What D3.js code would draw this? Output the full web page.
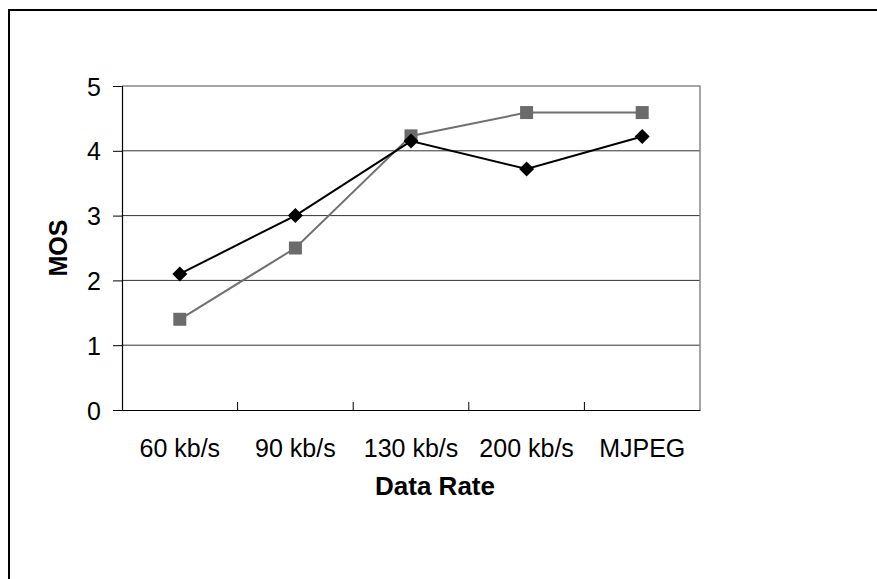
<!DOCTYPE html>
<html>
<head>
<meta charset="utf-8">
<script src="https://cdn.jsdelivr.net/npm/d3@7"></script>
<style>
  body { margin: 0; background: #fff; }
  text { font-family: "Liberation Sans", Arial, sans-serif; fill: #000; }
</style>
</head>
<body>
<script>
var w = 877;
var h = 579;

var categories = ["60 kb/s", "90 kb/s", "130 kb/s", "200 kb/s", "MJPEG"];
var diamondVals = [2.1, 3.0, 4.15, 3.72, 4.22];
var squareVals = [1.4, 2.5, 4.23, 4.59, 4.59];
var yTicks = [0, 1, 2, 3, 4, 5];

var pLeft = 122, pRight = 700, pTop = 86, pBottom = 410;
var fontSize = 25;

var svg = d3.select("body")
    .append("svg")
    .attr("width", w)
    .attr("height", h);

// outer frame (cut off on right and bottom)
svg.append("path")
    .attr("d", "M9," + h + " V10 H" + w)
    .attr("fill", "none")
    .attr("stroke", "#000")
    .attr("stroke-width", 2);

var xScale = d3.scaleBand()
    .domain(categories)
    .range([pLeft, pRight]);

var yScale = d3.scaleLinear()
    .domain([0, 5])
    .range([pBottom, pTop]);

// gridlines
svg.selectAll(".grid")
    .data(yTicks.filter(function(d) { return d > 0 && d < 5; }))
    .enter()
    .append("line")
    .attr("x1", pLeft)
    .attr("x2", pRight)
    .attr("y1", function(d) { return yScale(d); })
    .attr("y2", function(d) { return yScale(d); })
    .attr("stroke", "#333")
    .attr("stroke-width", 1);

// plot border top/right
svg.append("path")
    .attr("d", "M" + pLeft + "," + pTop + " H" + pRight + " V" + pBottom)
    .attr("fill", "none")
    .attr("stroke", "#888")
    .attr("stroke-width", 1.5);

// y axis
var yAxis = d3.axisLeft(yScale)
    .tickValues(yTicks)
    .tickFormat(d3.format("d"))
    .tickSize(9)
    .tickPadding(12);
var gy = svg.append("g")
    .attr("transform", "translate(" + pLeft + ",0)")
    .call(yAxis);
gy.select(".domain").attr("stroke", "#000").attr("stroke-width", 1.2);
gy.selectAll(".tick line").attr("stroke", "#000");
gy.selectAll("text")
    .attr("font-size", fontSize)
    .attr("font-family", "Liberation Sans, Arial, sans-serif")
    .attr("dy", "0.36em");

// x axis
var xAxis = d3.axisBottom(xScale)
    .tickSize(0)
    .tickPadding(29);
var gx = svg.append("g")
    .attr("transform", "translate(0," + pBottom + ")")
    .call(xAxis);
gx.select(".domain").attr("stroke", "#000").attr("stroke-width", 1.2);
gx.selectAll("text")
    .attr("font-size", fontSize)
    .attr("font-family", "Liberation Sans, Arial, sans-serif");

// category boundary ticks pointing up
svg.selectAll(".xtick")
    .data(categories.slice(1))
    .enter()
    .append("line")
    .attr("x1", function(d) { return xScale(d); })
    .attr("x2", function(d) { return xScale(d); })
    .attr("y1", pBottom)
    .attr("y2", pBottom - 8)
    .attr("stroke", "#000");

// axis titles
svg.append("text")
    .attr("x", 435)
    .attr("y", 495)
    .attr("text-anchor", "middle")
    .attr("font-size", 26)
    .attr("font-weight", "bold")
    .text("Data Rate");

svg.append("text")
    .attr("transform", "translate(67," + ((pTop + pBottom) / 2) + ") rotate(-90)")
    .attr("text-anchor", "middle")
    .attr("font-size", fontSize)
    .attr("font-weight", "bold")
    .text("MOS");

var cx = function(d, i) { return xScale(categories[i]) + xScale.bandwidth() / 2; };

var line = d3.line()
    .x(cx)
    .y(function(d) { return yScale(d); });

// square series (gray)
svg.append("path")
    .datum(squareVals)
    .attr("d", line)
    .attr("fill", "none")
    .attr("stroke", "#707070")
    .attr("stroke-width", 2);

svg.selectAll(".sq")
    .data(squareVals)
    .enter()
    .append("rect")
    .attr("x", function(d, i) { return cx(d, i) - 6.5; })
    .attr("y", function(d) { return yScale(d) - 6.5; })
    .attr("width", 13)
    .attr("height", 13)
    .attr("fill", "#6b6b6b");

// diamond series (black)
svg.append("path")
    .datum(diamondVals)
    .attr("d", line)
    .attr("fill", "none")
    .attr("stroke", "#000")
    .attr("stroke-width", 2);

svg.selectAll(".dm")
    .data(diamondVals)
    .enter()
    .append("path")
    .attr("d", function(d, i) {
      var x = cx(d, i), y = yScale(d), r = 7.5;
      return "M" + x + "," + (y - r) + " L" + (x + r) + "," + y + " L" + x + "," + (y + r) + " L" + (x - r) + "," + y + " Z";
    })
    .attr("fill", "#000");
</script>
</body>
</html>
